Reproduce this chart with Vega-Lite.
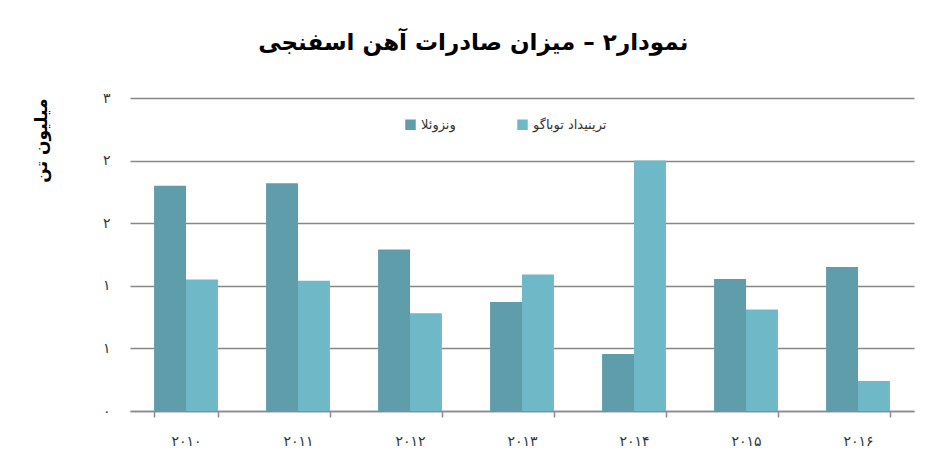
{
  "$schema": "https://vega.github.io/schema/vega-lite/v6.json",
  "autosize": {"type": "none"},
  "padding": {"left": 130, "top": 98, "right": 33, "bottom": 63},
  "width": 784,
  "height": 313,
  "background": "white",
  "title": {
    "text": "نمودار۲ – میزان صادرات آهن اسفنجی",
    "font": "DejaVu Sans",
    "fontSize": 23,
    "fontWeight": "bold",
    "color": "#000000",
    "anchor": "middle",
    "frame": "bounds",
    "offset": 36
  },
  "data": {
    "values": [
      {"year": "۲۰۱۰", "series": "ونزوئلا", "value": 1.80},
      {"year": "۲۰۱۰", "series": "ترینیداد توباگو", "value": 1.05},
      {"year": "۲۰۱۱", "series": "ونزوئلا", "value": 1.82},
      {"year": "۲۰۱۱", "series": "ترینیداد توباگو", "value": 1.04},
      {"year": "۲۰۱۲", "series": "ونزوئلا", "value": 1.29},
      {"year": "۲۰۱۲", "series": "ترینیداد توباگو", "value": 0.78},
      {"year": "۲۰۱۳", "series": "ونزوئلا", "value": 0.87},
      {"year": "۲۰۱۳", "series": "ترینیداد توباگو", "value": 1.09},
      {"year": "۲۰۱۴", "series": "ونزوئلا", "value": 0.455},
      {"year": "۲۰۱۴", "series": "ترینیداد توباگو", "value": 2.0},
      {"year": "۲۰۱۵", "series": "ونزوئلا", "value": 1.055},
      {"year": "۲۰۱۵", "series": "ترینیداد توباگو", "value": 0.81},
      {"year": "۲۰۱۶", "series": "ونزوئلا", "value": 1.15},
      {"year": "۲۰۱۶", "series": "ترینیداد توباگو", "value": 0.24}
    ]
  },
  "mark": {"type": "bar"},
  "encoding": {
    "x": {
      "field": "year",
      "type": "nominal",
      "sort": null,
      "scale": {"paddingInner": 0.43, "paddingOuter": 0.215},
      "axis": {
        "title": null,
        "labelAngle": 0,
        "labelFont": "DejaVu Sans",
        "labelFontSize": 14,
        "labelColor": "#333333",
        "labelPadding": 17,
        "domainColor": "#8c8c8c",
        "domainWidth": 1.5,
        "tickColor": "#8c8c8c",
        "tickWidth": 1.5,
        "tickSize": 6,
        "tickBand": "extent",
        "grid": false
      }
    },
    "xOffset": {
      "field": "series",
      "type": "nominal",
      "sort": ["ونزوئلا", "ترینیداد توباگو"],
      "scale": {"paddingInner": 0, "paddingOuter": 0}
    },
    "y": {
      "field": "value",
      "type": "quantitative",
      "scale": {"domain": [0, 2.5], "nice": false},
      "axis": {
        "title": "میلیون تن",
        "titleFont": "DejaVu Sans",
        "titleFontSize": 17,
        "titleFontWeight": "bold",
        "titleColor": "#000000",
        "titleAnchor": "end",
        "titlePadding": 52,
        "values": [0, 0.5, 1, 1.5, 2, 2.5],
        "labelExpr": "datum.value == 0 ? '۰' : datum.value <= 1 ? '۱' : datum.value <= 2 ? '۲' : '۳'",
        "labelFont": "DejaVu Sans",
        "labelFontSize": 14,
        "labelColor": "#333333",
        "labelPadding": 20,
        "domain": false,
        "ticks": false,
        "gridColor": "#878787",
        "gridWidth": 1.5
      }
    },
    "color": {
      "field": "series",
      "type": "nominal",
      "scale": {
        "domain": ["ونزوئلا", "ترینیداد توباگو"],
        "range": ["#5f9dab", "#6fb8c8"]
      },
      "legend": {
        "title": null,
        "orient": "none",
        "legendX": 274,
        "legendY": 20,
        "direction": "horizontal",
        "symbolType": "square",
        "symbolSize": 110,
        "symbolStrokeWidth": 0,
        "labelFont": "DejaVu Sans",
        "labelFontSize": 13,
        "labelColor": "#333333",
        "columnPadding": 60
      }
    }
  },
  "config": {
    "view": {"stroke": null}
  }
}
